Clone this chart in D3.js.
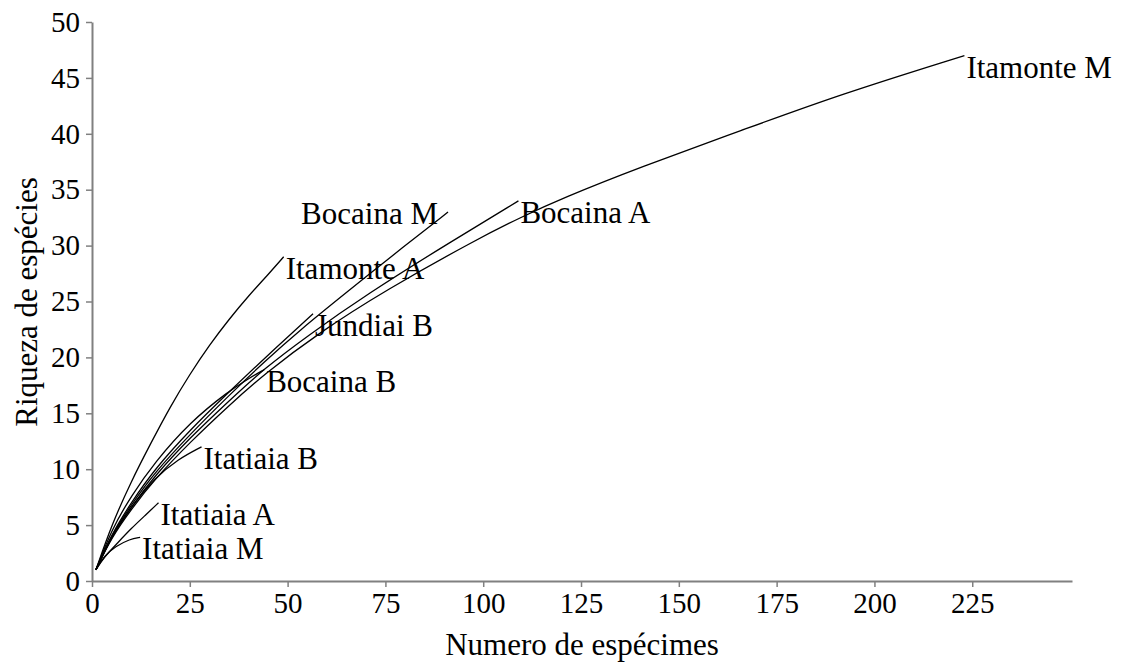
<!DOCTYPE html>
<html>
<head>
<meta charset="utf-8">
<script src="https://cdn.jsdelivr.net/npm/d3@7/dist/d3.min.js"></script>
<style>
  svg text { font-family: "Liberation Serif", "Times New Roman", Tinos, serif; }
</style>
</head>
<body style="margin:0">
<svg id="chart" width="1123" height="665" font-family="Liberation Serif"></svg>
<script>
// ---- Data ----
const seriesNames = ["Itamonte M", "Bocaina A", "Bocaina M", "Itamonte A", "Jundiai B", "Bocaina B", "Itatiaia B", "Itatiaia A", "Itatiaia M"];

const itamonteM = [[1,1],[5,3.9],[10,6.4],[16,9.1],[25,12.4],[35,15.7],[44,18.5],[58,22.2],[75,26],[98,30.5],[110,32.6],[120,34.2],[140,37.0],[166,40.3],[191,43.5],[223,47]];
const bocainaA  = [[1,1],[5,4.0],[10,6.6],[16,9.4],[25,12.8],[35,16.1],[44,19.0],[55,21.9],[70,25.6],[92,30.4],[109,34]];
const bocainaM  = [[1,1],[5,4.1],[10,6.8],[16,9.7],[25,13.1],[35,16.6],[44,19.6],[53,22.4],[65,25.8],[80,30.0],[91,33]];
const itamonteA = [[1,1],[5,5],[10,8.9],[15,12.3],[20,15.6],[25,18.5],[30,21.1],[35,23.4],[40,25.5],[45,27.4],[49,29]];
const jundiaiB  = [[1,1],[5,4.2],[10,7.0],[16,10.0],[25,13.5],[35,16.9],[44,19.9],[56.5,23.9]];
const bocainaB  = [[1,1],[5,4.6],[10,7.6],[16,10.6],[25,14.2],[35,17.0],[40,18.1],[44,18.9]];
const itatiaiaB = [[1,1],[5,4.0],[10,6.6],[16,9.2],[22,10.9],[28,12]];
const itatiaiaA = [[1,1],[3,2.1],[6,3.2],[10,4.7],[14,6.0],[17,7]];
const itatiaiaM = [[1,1],[3,2.2],[6,3.1],[9.7,3.75],[12.3,3.9]];

const seriesValues = [itamonteM, bocainaA, bocainaM, itamonteA, jundiaiB, bocainaB, itatiaiaB, itatiaiaA, itatiaiaM];

const xTicks = [0, 25, 50, 75, 100, 125, 150, 175, 200, 225];
const yTicks = [0, 5, 10, 15, 20, 25, 30, 35, 40, 45, 50];

const xTitle = "Numero de espécimes";
const yTitle = "Riqueza de espécies";

// ---- Layout / style ----
const FONT = "Liberation Serif";
const AXIS_COLOR = "#808080";
const svg = d3.select("#chart");

const x = d3.scaleLinear().domain([0, 250.5]).range([92, 1072]);
const y = d3.scaleLinear().domain([0, 50]).range([581, 22]);

// label offsets relative to the last point of each curve (pixels)
const labelStyle = {
  "Bocaina M": { dx: -10, dy: 12, anchor: "end" }
};
const defaultLabel = { dx: 2, dy: 22, anchor: "start" };

// ---- Axes ----
const xAxis = svg.append("g")
  .attr("transform", `translate(0,${y(0)})`)
  .call(d3.axisBottom(x).tickValues(xTicks).tickSize(6).tickPadding(5.5).tickSizeOuter(0));
const yAxis = svg.append("g")
  .attr("transform", `translate(${x(0)},0)`)
  .call(d3.axisLeft(y).tickValues(yTicks).tickSize(6).tickPadding(6).tickSizeOuter(0));

[xAxis, yAxis].forEach(g => {
  g.attr("font-family", FONT).attr("font-size", 29);
  g.select(".domain").attr("stroke", AXIS_COLOR).attr("stroke-width", 2);
  g.selectAll(".tick line").attr("stroke", AXIS_COLOR).attr("stroke-width", 1.5);
  g.selectAll(".tick text")
    .attr("fill", "#000")
    .attr("font-family", FONT)
    .attr("font-size", 29);
});

// axis titles
svg.append("text")
  .attr("x", 582).attr("y", 655)
  .attr("text-anchor", "middle")
  .attr("font-family", FONT).attr("font-size", 31)
  .text(xTitle);

svg.append("text")
  .attr("transform", `translate(37,302) rotate(-90)`)
  .attr("text-anchor", "middle")
  .attr("font-family", FONT).attr("font-size", 31)
  .text(yTitle);

// ---- Curves ----
const line = d3.line()
  .x(d => x(d[0]))
  .y(d => y(d[1]))
  .curve(d3.curveBasis);

const g = svg.append("g");
seriesValues.forEach((vals, i) => {
  g.append("path")
    .datum(vals)
    .attr("fill", "none")
    .attr("stroke", "#000")
    .attr("stroke-width", 1.3)
    .attr("d", line);
  const last = vals[vals.length - 1];
  const ls = labelStyle[seriesNames[i]] || defaultLabel;
  g.append("text")
    .attr("x", x(last[0]) + ls.dx)
    .attr("y", y(last[1]) + ls.dy)
    .attr("text-anchor", ls.anchor)
    .attr("font-family", FONT).attr("font-size", 31)
    .attr("fill", "#000")
    .text(seriesNames[i]);
});
</script>
</body>
</html>
